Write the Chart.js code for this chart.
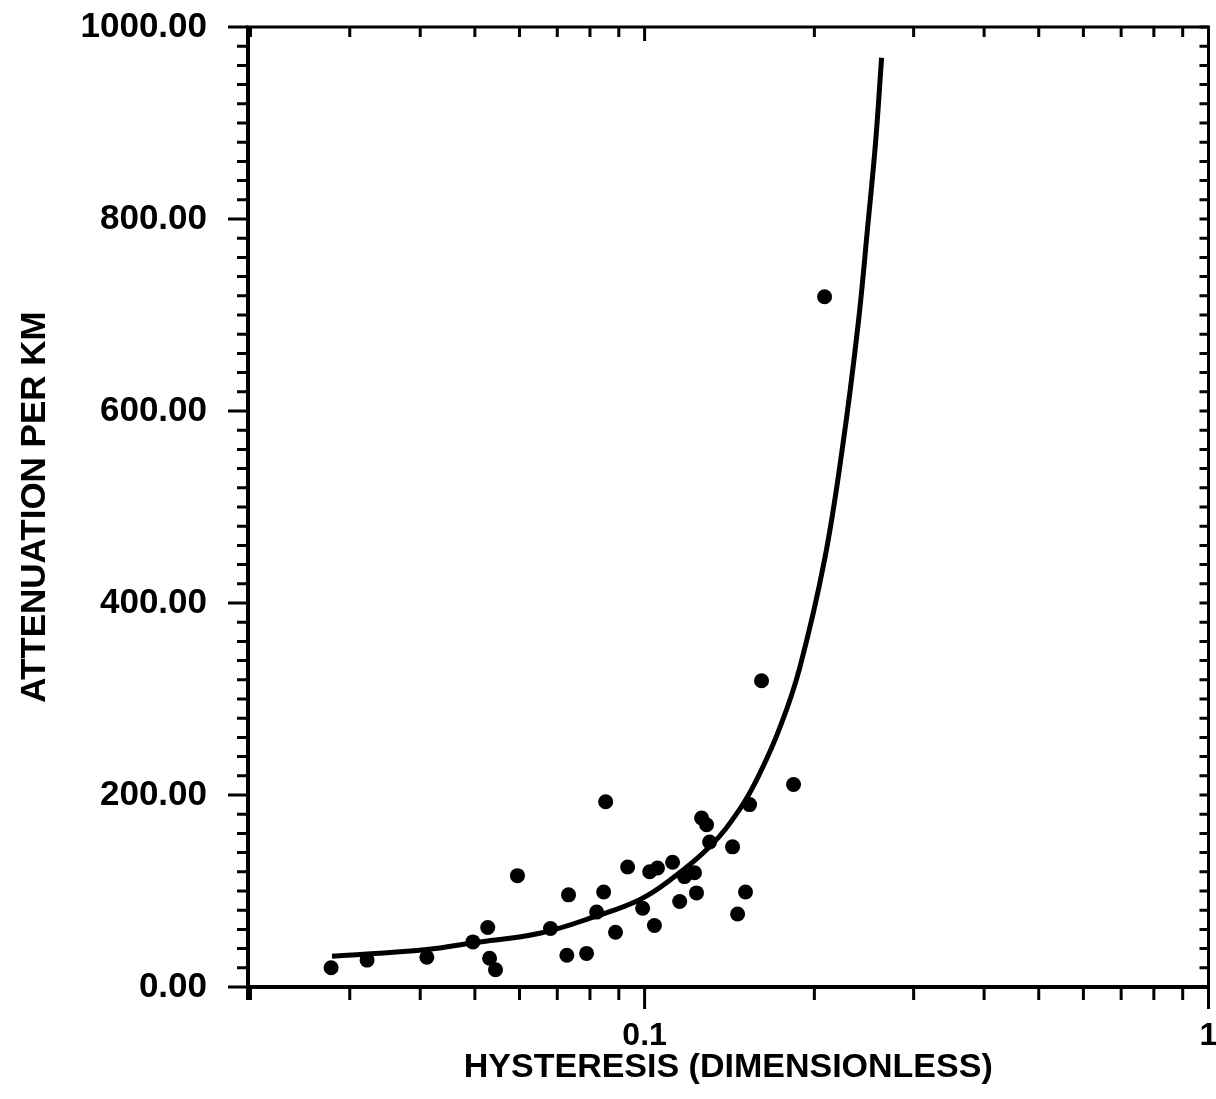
<!DOCTYPE html>
<html>
<head>
<meta charset="utf-8">
<script src="https://cdn.jsdelivr.net/npm/chart.js@4.4.1/dist/chart.umd.min.js"></script>
<style>
  html, body { margin: 0; padding: 0; background: #fff; }
  #c { display: block; }
</style>
</head>
<body>
<canvas id="c" width="1216" height="1099"></canvas>
<script>
// ---- data ----
const hysteresis = [0.0278, 0.0322, 0.0411, 0.0496, 0.0527, 0.0531, 0.0544, 0.0595, 0.0681, 0.0728,
  0.0733, 0.0789, 0.0822, 0.0846, 0.0853, 0.0888, 0.0933, 0.0992, 0.1021, 0.1054,
  0.1041, 0.1121, 0.1154, 0.1177, 0.1226, 0.1236, 0.1262, 0.1288, 0.1304, 0.1432,
  0.1462, 0.1510, 0.1535, 0.1612, 0.1837, 0.2085];
const attenuation = [20, 28, 31, 47, 62, 30, 18, 116, 61, 33,
  96, 35, 78, 99, 193, 57, 125, 82, 120, 124,
  64, 130, 89, 115, 119, 98, 176, 169, 151, 146,
  76, 99, 190, 319, 211, 719];

const fitHysteresis = [0.0279, 0.0411, 0.0496, 0.0652, 0.0822, 0.0980, 0.1107, 0.1304, 0.1474,
  0.1599, 0.1742, 0.1883, 0.2085, 0.2247, 0.2391, 0.2485, 0.2568, 0.2632];
const fitAttenuation = [32, 39, 46, 56, 74, 91, 111, 146, 185,
  222, 272, 332, 445, 565, 690, 790, 880, 968];

// ---- axes / ticks ----
const xMin = 0.0198, xMax = 1;
const yMin = 0, yMax = 1000;
const xTickLabels = [0.1, 1];
const xMinorTicks = [0.02, 0.03, 0.04, 0.05, 0.06, 0.07, 0.08, 0.09, 0.2, 0.3, 0.4, 0.5, 0.6, 0.7, 0.8, 0.9];
const yTickLabels = [0, 200, 400, 600, 800, 1000];
const yMinorStep = 20;

const FONT = "'Liberation Sans', Arial, Helvetica, sans-serif";

const frameTicks = {
  id: 'frameTicks',
  afterDraw(chart) {
    const { ctx, chartArea: a, scales: { x, y } } = chart;
    ctx.save();
    ctx.strokeStyle = '#000';
    ctx.lineCap = 'butt';
    // frame
    ctx.lineWidth = 4;
    ctx.beginPath();
    ctx.moveTo(a.left, a.top);
    ctx.lineTo(a.left, a.bottom + 13);
    ctx.moveTo(a.left - 2, a.bottom);
    ctx.lineTo(a.right + 1, a.bottom);
    ctx.stroke();
    ctx.lineWidth = 3;
    ctx.beginPath();
    ctx.moveTo(a.left - 2, a.top);
    ctx.lineTo(a.right, a.top);
    ctx.lineTo(a.right, a.bottom);
    ctx.stroke();
    // y ticks (left outward, right inward)
    ctx.lineWidth = 3;
    for (let v = yMin; v <= yMax; v += yMinorStep) {
      const py = y.getPixelForValue(v);
      const major = yTickLabels.includes(v);
      ctx.beginPath();
      ctx.moveTo(a.left, py);
      ctx.lineTo(a.left - (major ? 20 : 11), py);
      ctx.moveTo(a.right, py);
      ctx.lineTo(a.right - 9, py);
      ctx.stroke();
    }
    // x ticks (bottom outward, top inward)
    [...xMinorTicks, ...xTickLabels].forEach(v => {
      const px = x.getPixelForValue(v);
      const major = xTickLabels.includes(v);
      ctx.beginPath();
      ctx.moveTo(px, a.bottom);
      ctx.lineTo(px, a.bottom + (major ? 22 : 13));
      ctx.moveTo(px, a.top);
      ctx.lineTo(px, a.top + (major ? 14 : 10));
      ctx.stroke();
    });
    ctx.restore();
  }
};

new Chart(document.getElementById('c'), {
  type: 'scatter',
  data: {
    datasets: [
      {
        label: 'fit',
        data: fitHysteresis.map((v, i) => ({ x: v, y: fitAttenuation[i] })),
        showLine: true,
        borderColor: '#000',
        borderWidth: 5,
        pointRadius: 0,
        tension: 0.4,
        fill: false
      },
      {
        label: 'observed',
        data: hysteresis.map((v, i) => ({ x: v, y: attenuation[i] })),
        backgroundColor: '#000',
        borderColor: '#000',
        borderWidth: 0,
        pointRadius: 7.5,
        showLine: false
      }
    ]
  },
  options: {
    responsive: false,
    animation: false,
    devicePixelRatio: 1,
    layout: { padding: { left: 0, right: 7, top: 27, bottom: 0 } },
    plugins: { legend: { display: false }, tooltip: { enabled: false } },
    scales: {
      x: {
        type: 'logarithmic',
        min: xMin,
        max: xMax,
        grid: { display: false, drawTicks: false },
        border: { display: false },
        afterBuildTicks: s => { s.ticks = xTickLabels.map(v => ({ value: v })); },
        afterFit: s => { s.height = 112; s.paddingLeft = 0; s.paddingRight = 0; s.paddingTop = 0; s.paddingBottom = 0; },
        ticks: {
          autoSkip: false,
          maxRotation: 0,
          padding: 30,
          color: '#000',
          font: { family: FONT, size: 32, weight: 'bold' },
          callback: v => String(v)
        },
        title: {
          display: true,
          text: 'HYSTERESIS (DIMENSIONLESS)',
          color: '#000',
          font: { family: FONT, size: 34, weight: 'bold' },
          padding: { top: 0, bottom: 11 }
        }
      },
      y: {
        type: 'linear',
        min: yMin,
        max: yMax,
        grid: { display: false, drawTicks: false },
        border: { display: false },
        afterBuildTicks: s => { s.ticks = yTickLabels.map(v => ({ value: v })); },
        afterFit: s => { s.width = 248; s.paddingTop = 0; s.paddingBottom = 0; s.paddingLeft = 0; s.paddingRight = 0; },
        ticks: {
          padding: 41,
          color: '#000',
          font: { family: FONT, size: 35, weight: 'bold' },
          callback: v => Number(v).toFixed(2)
        },
        title: {
          display: true,
          text: 'ATTENUATION PER KM',
          color: '#000',
          font: { family: FONT, size: 35, weight: 'bold' },
          padding: { top: 14, bottom: 0 }
        }
      }
    }
  },
  plugins: [frameTicks]
});
</script>
</body>
</html>
